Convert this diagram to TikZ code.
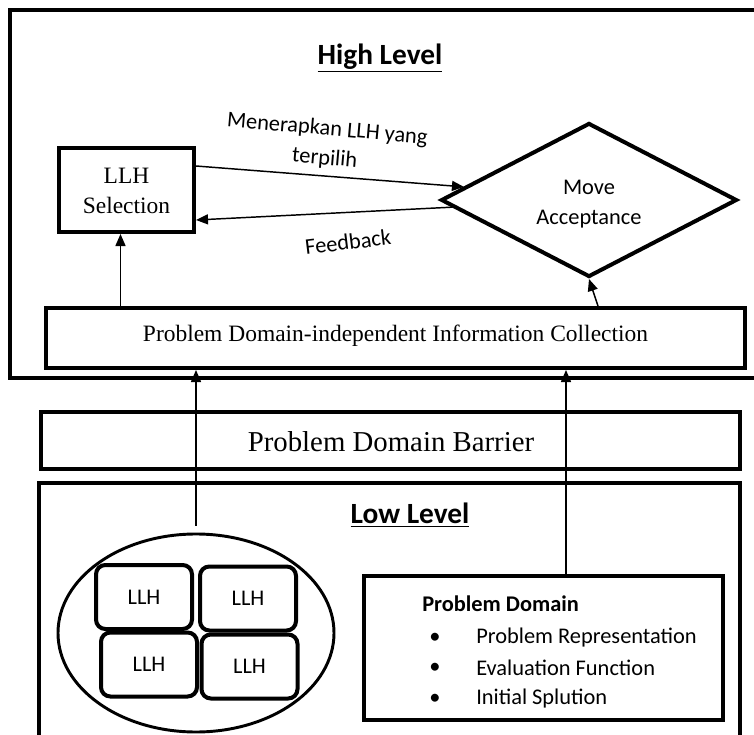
\documentclass[tikz,border=0pt]{standalone}
\usepackage{fontspec}
\setmainfont{Liberation Serif}
\newfontfamily\calib{Carlito}
\usetikzlibrary{shapes.geometric,arrows.meta,calc}

\begin{document}
\begin{tikzpicture}[x=0.75pt,y=-0.75pt,
  frame/.style={draw, line width=3pt},
  link/.style={line width=1.1pt},
  arr/.style={link,-{Triangle[length=9pt,width=7.5pt]}},
  serif/.style={font=\fontsize{17.6}{22.5}\selectfont},
  sans/.style={font=\calib\fontsize{16.8}{21.5}\selectfont},
  head/.style={font=\calib\bfseries\fontsize{22}{26}\selectfont},
  llhbox/.style={draw, line width=3pt, rounded corners=7pt, inner sep=0pt,
                 minimum width=72pt, minimum height=48pt, sans},
  bulletmark/.style={sans, anchor=center, inner sep=0pt},
  item/.style={sans, anchor=west, inner sep=0pt}
]
\clip (0,0) rectangle (754,735);
\fill[white] (0,0) rectangle (754,735);

% high level frame
\draw[frame] (10,378) -- (10,10) -- (770,10) -- (770,378) -- cycle;
\node[head] (hightitle) at (380,58) {\underline{High Level}};

% heuristic selection and move acceptance
\node[frame, serif, align=center, inner sep=0pt,
      minimum width=101.25pt, minimum height=63pt] (sel) at (126.5,190) {};
\node[serif, align=center, inner sep=0pt] (seltext) at (126.5,191)
      {LLH\\Selection};
\node[frame, diamond, aspect=1.92, inner sep=0pt,
      minimum width=222pt, minimum height=115.5pt] (mv) at (589,200) {};
\node[sans, align=center, inner sep=0pt,
      font=\calib\fontsize{16.8}{22.5}\selectfont] (mvtext) at (589,204)
      {Move\\Acceptance};

% information collection layer
\node[frame, serif, inner sep=0pt, minimum width=524.25pt, minimum height=45pt]
      (info) at (395.5,338) {};
\node[serif, inner sep=0pt] (infotext) at (395.5,336)
      {Problem Domain-independent Information Collection};

% domain barrier
\node[frame, inner sep=0pt, minimum width=524.25pt, minimum height=42.75pt]
      (barrier) at (390.5,440.5) {};
\node[inner sep=0pt, font=\fontsize{21.6}{26}\selectfont] (barriertext)
      at (391,442) {Problem Domain Barrier};

% low level frame
\draw[frame] (39,760) -- (39,483) -- (740,483) -- (740,760);
\node[head] (lowtitle) at (410,515) {\underline{Low Level}};

% pool of low level heuristics
\node[draw, ellipse, line width=2.2pt, inner sep=0pt,
      minimum width=207pt, minimum height=148.5pt] (pool) at (196,633) {};
\node[llhbox] (h1) at (144,597) {LLH};
\node[llhbox] (h2) at (248,598.5) {LLH};
\node[llhbox] (h3) at (149,664.5) {LLH};
\node[llhbox] (h4) at (249.5,666.5) {LLH};

% problem domain box
\node[draw, line width=2.6pt, inner sep=0pt,
      minimum width=269.25pt, minimum height=108pt] (pd) at (543.5,648) {};
\node[font=\calib\bfseries\fontsize{16.8}{21}\selectfont,
      anchor=west, inner sep=0pt] (pdtitle) at (422,604) {Problem Domain};
\node[bulletmark] (b1) at (435,638) {•};
\node[bulletmark] (b2) at (435,668) {•};
\node[bulletmark] (b3) at (435,699) {•};
\node[item] (i1) at (476,638) {Problem Representation};
\node[item] (i2) at (476,668) {Evaluation Function};
\node[item] (i3) at (476,699) {Initial Splution};

% connectors
\coordinate (selin) at ($(sel.south)+(-6,0)$);
\draw[arr] (info.north -| selin) -- (selin);
\coordinate (mvfoot) at ($(info.north)+(202.5,0)$);
\draw[arr] (mvfoot) -- (mv.south);
\coordinate (selout) at ($(sel.east)+(0,-24)$);
\draw[arr] (selout) -- (mv.174);
\coordinate (selback) at ($(sel.east)+(0,30)$);
\draw[arr] (mv.183) -- (selback);

\coordinate (pooltop) at ($(pool.north)+(0,-7)$);
\draw[arr] (pooltop) -- (pooltop |- info.south);
\coordinate (pdtop) at ($(pd.north)+(22.5,0)$);
\draw[arr] (pdtop) -- (pdtop |- info.south);

% connector labels
\node[sans, align=center, rotate=-5, font=\calib\fontsize{16.8}{22}\selectfont]
      (applab) at (326,144) {Menerapkan LLH yang\\terpilih};
\node[sans, rotate=7] (fblab) at (348,242) {Feedback};
\end{tikzpicture}
\end{document}
